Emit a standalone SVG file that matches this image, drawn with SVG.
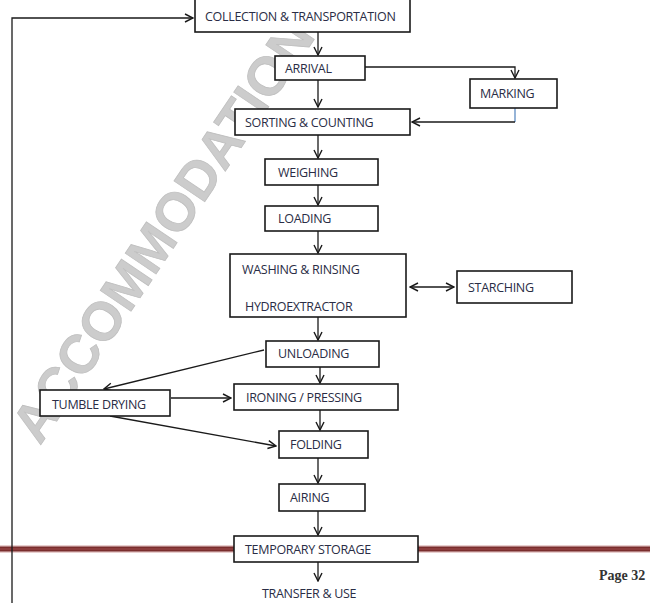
<svg xmlns="http://www.w3.org/2000/svg" width="650" height="603" viewBox="0 0 650 603">
<defs>
<style>
.box{fill:#fff;stroke:#1a1a1a;stroke-width:1.6}
.t{font-family:"Open Sans","Liberation Sans",sans-serif;font-size:12.5px;fill:#2a2d45;letter-spacing:-0.3px}
.c{fill:none;stroke:#1a1a1a;stroke-width:1.3}
</style>
<marker id="ah" viewBox="0 0 10 10" refX="9" refY="5" markerWidth="10" markerHeight="10" markerUnits="userSpaceOnUse" orient="auto-start-reverse">
<polyline points="1,1 9,5 1,9" fill="none" stroke="#1a1a1a" stroke-width="1.4"/>
</marker>
</defs>
<rect width="650" height="603" fill="#fff"/>
<text transform="translate(40,446) rotate(-56)" font-family="'Liberation Sans',sans-serif" font-weight="bold" font-size="54" fill="#cccccc" stroke="#bfbfbf" stroke-width="0.8">ACCOMMODATION</text>
<g id="rule">
<rect x="0" y="545" width="650" height="8" fill="#e8cfcf"/>
<rect x="0" y="546.5" width="650" height="5" fill="#7a2e2e"/>
<line x1="0" y1="549" x2="650" y2="549" stroke="#a55" stroke-width="0.8"/>
</g>
<g id="connectors">
<polyline class="c" points="12,603 12,18 193,18" marker-end="url(#ah)"/>
<line class="c" x1="318" y1="32" x2="318" y2="55" marker-end="url(#ah)"/>
<polyline class="c" points="365,67 515,67 515,78" marker-end="url(#ah)"/>
<line x1="515" y1="108" x2="515" y2="122" stroke="#4f81bd" stroke-width="1.2"/>
<line class="c" x1="515" y1="122" x2="412" y2="122" marker-end="url(#ah)"/>
<line class="c" x1="318" y1="80" x2="318" y2="107" marker-end="url(#ah)"/>
<line class="c" x1="318" y1="135" x2="318" y2="158" marker-end="url(#ah)"/>
<line class="c" x1="318" y1="185" x2="318" y2="205" marker-end="url(#ah)"/>
<line class="c" x1="318" y1="231" x2="318" y2="253" marker-end="url(#ah)"/>
<line class="c" x1="410" y1="287" x2="454" y2="287" marker-start="url(#ah)" marker-end="url(#ah)"/>
<line class="c" x1="318" y1="317" x2="318" y2="340" marker-end="url(#ah)"/>
<line class="c" x1="264" y1="350" x2="104" y2="389" marker-end="url(#ah)"/>
<line class="c" x1="320" y1="367" x2="320" y2="383" marker-end="url(#ah)"/>
<line class="c" x1="171" y1="398" x2="231" y2="398" marker-end="url(#ah)"/>
<line class="c" x1="320" y1="410" x2="320" y2="430" marker-end="url(#ah)"/>
<line class="c" x1="110" y1="416" x2="276" y2="446" marker-end="url(#ah)"/>
<line class="c" x1="318" y1="458" x2="318" y2="483" marker-end="url(#ah)"/>
<line class="c" x1="318" y1="511" x2="318" y2="535" marker-end="url(#ah)"/>
<line class="c" x1="318" y1="562" x2="318" y2="581" marker-end="url(#ah)"/>
</g>
<g id="collection"><rect class="box" x="195" y="-2" width="215" height="34"/><text class="t" x="205" y="21">COLLECTION &amp; TRANSPORTATION</text></g>
<g id="arrival"><rect class="box" x="275" y="56" width="90" height="24"/><text class="t" x="285" y="73">ARRIVAL</text></g>
<g id="marking"><rect class="box" x="470" y="79" width="87" height="29"/><text class="t" x="480" y="98">MARKING</text></g>
<g id="sorting"><rect class="box" x="235" y="109" width="175" height="26"/><text class="t" x="245" y="127">SORTING &amp; COUNTING</text></g>
<g id="weighing"><rect class="box" x="265" y="159" width="113" height="26"/><text class="t" x="278" y="177">WEIGHING</text></g>
<g id="loading"><rect class="box" x="265" y="206" width="113" height="25"/><text class="t" x="278" y="223">LOADING</text></g>
<g id="washing"><rect class="box" x="230" y="254" width="176" height="63"/><text class="t" x="242" y="274">WASHING &amp; RINSING</text><text class="t" x="245" y="311">HYDROEXTRACTOR</text></g>
<g id="starching"><rect class="box" x="457" y="271" width="115" height="32"/><text class="t" x="468" y="292">STARCHING</text></g>
<g id="unloading"><rect class="box" x="266" y="341" width="113" height="26"/><text class="t" x="278" y="358">UNLOADING</text></g>
<g id="tumble"><rect class="box" x="40" y="390" width="130" height="26"/><text class="t" x="52" y="409">TUMBLE DRYING</text></g>
<g id="ironing"><rect class="box" x="234" y="384" width="164" height="26"/><text class="t" x="246" y="402">IRONING / PRESSING</text></g>
<g id="folding"><rect class="box" x="279" y="431" width="89" height="27"/><text class="t" x="290" y="449">FOLDING</text></g>
<g id="airing"><rect class="box" x="279" y="484" width="86" height="27"/><text class="t" x="290" y="502">AIRING</text></g>
<g id="storage"><rect class="box" x="234" y="536" width="184" height="26"/><text class="t" x="245" y="554">TEMPORARY STORAGE</text></g>
<g id="transfer"><text class="t" x="262" y="598">TRANSFER &amp; USE</text></g>
<text x="599" y="580" font-family="'Liberation Serif',serif" font-weight="bold" font-size="14" fill="#333">Page 32</text>
</svg>
